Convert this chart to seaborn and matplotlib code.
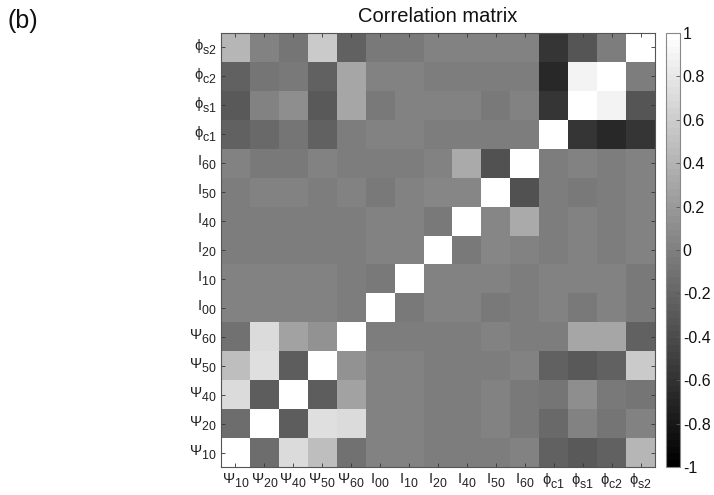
import numpy as np
import pandas as pd
import matplotlib
matplotlib.use("Agg")
import matplotlib.pyplot as plt
import matplotlib._mathtext as mathtext_internals
import seaborn as sns

# Parameter names, bottom-to-top on the y axis and left-to-right on the x axis
names = [r"$\Psi_{10}$", r"$\Psi_{20}$", r"$\Psi_{40}$", r"$\Psi_{50}$", r"$\Psi_{60}$",
         r"$\mathrm{I}_{00}$", r"$\mathrm{I}_{10}$", r"$\mathrm{I}_{20}$", r"$\mathrm{I}_{40}$",
         r"$\mathrm{I}_{50}$", r"$\mathrm{I}_{60}$",
         r"$\phi_{c1}$", r"$\phi_{s1}$", r"$\phi_{c2}$", r"$\phi_{s2}$"]

# Correlation coefficients, one row per parameter (same order as names)
r_psi10 = [1.00, -0.14, 0.69, 0.49, -0.12, 0.00, 0.00, -0.01, -0.02, -0.02, 0.00, -0.22, -0.31, -0.22, 0.41]
r_psi20 = [-0.14, 1.00, -0.27, 0.73, 0.69, 0.00, 0.00, -0.01, -0.02, 0.02, -0.04, -0.18, 0.00, -0.09, 0.02]
r_psi40 = [0.69, -0.27, 1.00, -0.27, 0.28, 0.00, 0.00, -0.01, -0.02, 0.02, -0.04, -0.08, 0.10, -0.04, -0.07]
r_psi50 = [0.49, 0.73, -0.27, 1.00, 0.13, 0.00, 0.00, -0.01, -0.02, -0.02, 0.00, -0.25, -0.31, -0.23, 0.59]
r_psi60 = [-0.12, 0.69, 0.28, 0.13, 1.00, -0.02, -0.02, -0.02, -0.02, 0.02, -0.02, -0.02, 0.29, 0.29, -0.22]
r_i00 = [0.00, 0.00, 0.00, 0.00, -0.02, 1.00, -0.04, 0.00, 0.00, -0.04, -0.02, 0.00, -0.06, 0.00, -0.04]
r_i10 = [0.00, 0.00, 0.00, 0.00, -0.02, -0.04, 1.00, 0.00, 0.00, 0.00, -0.02, 0.00, 0.00, 0.00, -0.04]
r_i20 = [-0.01, -0.01, -0.01, -0.01, -0.02, 0.00, 0.00, 1.00, -0.04, 0.04, 0.02, -0.03, 0.00, -0.03, 0.00]
r_i40 = [-0.02, -0.02, -0.02, -0.02, -0.02, 0.00, 0.00, -0.04, 1.00, 0.04, 0.33, -0.03, 0.00, -0.03, 0.00]
r_i50 = [-0.02, 0.02, 0.02, -0.02, 0.02, -0.04, 0.00, 0.04, 0.04, 1.00, -0.37, -0.03, -0.04, -0.03, 0.00]
r_i60 = [0.00, -0.04, -0.04, 0.00, -0.02, -0.02, -0.02, 0.02, 0.33, -0.37, 1.00, -0.03, 0.00, -0.03, 0.00]
r_phic1 = [-0.22, -0.18, -0.08, -0.25, -0.02, 0.00, 0.00, -0.03, -0.03, -0.03, -0.03, 1.00, -0.57, -0.66, -0.58]
r_phis1 = [-0.31, 0.00, 0.10, -0.31, 0.29, -0.06, 0.00, 0.00, 0.00, -0.04, 0.00, -0.57, 1.00, 0.90, -0.33]
r_phic2 = [-0.22, -0.09, -0.04, -0.23, 0.29, 0.00, 0.00, -0.03, -0.03, -0.03, -0.03, -0.66, 0.90, 1.00, -0.02]
r_phis2 = [0.41, 0.02, -0.07, 0.59, -0.22, -0.04, -0.04, 0.00, 0.00, 0.00, 0.00, -0.58, -0.33, -0.02, 1.00]

rows = [r_psi10, r_psi20, r_psi40, r_psi50, r_psi60, r_i00, r_i10, r_i20, r_i40,
        r_i50, r_i60, r_phic1, r_phis1, r_phic2, r_phis2]

cbar_ticks = [-1, -0.8, -0.6, -0.4, -0.2, 0, 0.2, 0.4, 0.6, 0.8, 1]
cbar_labels = ["-1", "-0.8", "-0.6", "-0.4", "-0.2", "0", "0.2", "0.4", "0.6", "0.8", "1"]

plt.rcParams["font.family"] = ["Liberation Sans", "DejaVu Sans"]
plt.rcParams["mathtext.fontset"] = "custom"
plt.rcParams["mathtext.rm"] = "Liberation Sans"
plt.rcParams["mathtext.it"] = "Liberation Sans"
plt.rcParams["mathtext.bf"] = "Liberation Sans:bold"
plt.rcParams["axes.unicode_minus"] = False

# Larger, lower subscripts for the parameter indices
mathtext_internals.SHRINK_FACTOR = 0.85
mathtext_internals.FontConstantsBase.sub1 = 0.55
mathtext_internals.FontConstantsBase.sub2 = 0.7

# heatmap rows run top-to-bottom, so put the last parameter on top
corr = pd.DataFrame(rows[::-1], index=names[::-1], columns=names)

fig = plt.figure(figsize=(7.14, 4.95), dpi=100)
ax = fig.add_axes([221 / 714, 28 / 495, 434 / 714, 434 / 495])
cax = fig.add_axes([666 / 714, 28 / 495, 14 / 714, 434 / 495])

cmap = plt.get_cmap("gray", 64)
sns.heatmap(corr, ax=ax, cbar_ax=cax, cmap=cmap, vmin=-1, vmax=1,
            square=False, linewidths=0, cbar_kws={"ticks": cbar_ticks})

for s in ax.spines.values():
    s.set_visible(True)
    s.set_color("#555555")
    s.set_linewidth(0.8)

ax.tick_params(axis="both", direction="in", length=3, width=0.6, color="#333333",
               top=True, right=True, labelsize=10.5, labelcolor="#222222", pad=3)
ax.set_xticklabels(names, rotation=0)
ax.set_yticklabels(names[::-1], rotation=0)
ax.set_xlabel("")
ax.set_ylabel("")
ax.set_title("Correlation matrix", fontsize=14.5, color="#111111", pad=8)

cax.set_yticklabels(cbar_labels)
cax.tick_params(direction="in", length=3, width=0.6, color="#555555",
                labelsize=11.5, labelcolor="#111111", pad=2)
cb = ax.collections[0].colorbar
cb.outline.set_edgecolor("#888888")
cb.outline.set_linewidth(0.8)

fig.text(0.011, 0.958, "(b)", fontsize=18, color="#111111", va="center", ha="left")

fig.savefig("out.png", dpi=100)
